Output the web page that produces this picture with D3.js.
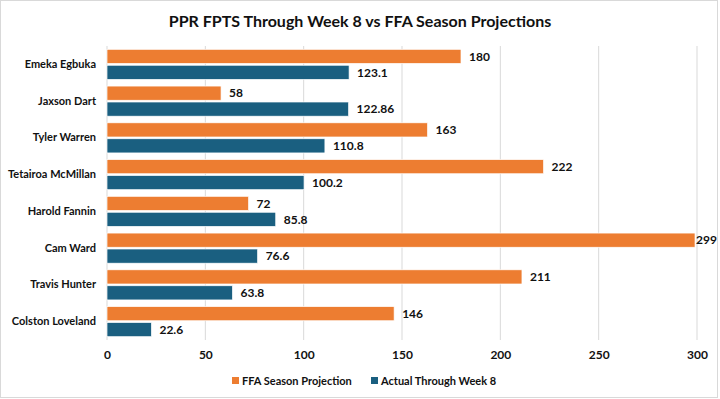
<html>
  <head>
    <style>
      body { margin: 0; background: #fff; }
      text { font-family: Lato, "Noto Sans", sans-serif; font-weight: bold; fill: #111; }
    </style>
  </head>
  <body>
    <svg id="container" height="399" width="720"></svg>
  </body>
  <script src="https://cdn.jsdelivr.net/npm/d3@7"></script>
  <script>
    let players = ["Emeka Egbuka", "Jaxson Dart", "Tyler Warren", "Tetairoa McMillan",
                   "Harold Fannin", "Cam Ward", "Travis Hunter", "Colston Loveland"];
    let projection = [180, 58, 163, 222, 72, 299, 211, 146];
    let actual = [123.1, 122.86, 110.8, 100.2, 85.8, 76.6, 63.8, 22.6];
    let seriesNames = ["FFA Season Projection", "Actual Through Week 8"];
    let xTicks = [0, 50, 100, 150, 200, 250, 300];

    let colors = ["#ED7D31", "#1A5F80"];
    let svg = d3.select("#container");

    // outer chart border
    svg.append("rect")
        .attr("x", 0.5).attr("y", 0.5)
        .attr("width", 717).attr("height", 397)
        .attr("fill", "none").attr("stroke", "#d9d9d9");

    svg.append("text")
        .attr("x", 360).attr("y", 27)
        .attr("text-anchor", "middle")
        .style("font-size", "16px")
        .text("PPR FPTS Through Week 8 vs FFA Season Projections");

    let plotTop = 46, plotBottom = 340, plotLeft = 107, plotRight = 697;

    let xScale = d3.scaleLinear().domain([0, 300]).range([plotLeft, plotRight]);
    let yScale = d3.scaleBand().domain(players).range([plotTop, plotBottom]).paddingInner(0.18).paddingOuter(0.09);
    let inner = d3.scaleBand().domain([0, 1]).range([0, yScale.bandwidth()]).paddingInner(0.11);

    // gridlines
    svg.append("g")
        .selectAll("line")
        .data(xTicks)
        .join("line")
        .attr("x1", d => xScale(d)).attr("x2", d => xScale(d))
        .attr("y1", plotTop).attr("y2", plotBottom)
        .attr("stroke", "#d9d9d9");

    // x axis labels
    let xAxis = svg.append("g")
        .attr("transform", "translate(0," + plotBottom + ")")
        .call(d3.axisBottom(xScale).tickValues(xTicks).tickSize(0).tickPadding(10));
    xAxis.select(".domain").remove();
    xAxis.selectAll("text").style("font-size", "12px").style("font-family", null);

    // y axis labels
    let yAxis = svg.append("g")
        .attr("transform", "translate(" + (plotLeft - 11) + ",0)")
        .call(d3.axisLeft(yScale).tickSize(0).tickPadding(0));
    yAxis.select(".domain").remove();
    yAxis.selectAll("text").style("font-size", "11px").style("font-family", null);

    let rows = players.map((p, i) => ({ name: p, vals: [projection[i], actual[i]] }));

    let groups = svg.append("g")
        .selectAll("g")
        .data(rows)
        .join("g")
        .attr("transform", d => "translate(0," + yScale(d.name) + ")");

    groups.selectAll("rect")
        .data(d => d.vals.map((v, k) => ({ v: v, k: k })))
        .join("rect")
        .attr("x", xScale(0))
        .attr("y", d => inner(d.k))
        .attr("width", d => xScale(d.v) - xScale(0))
        .attr("height", inner.bandwidth())
        .attr("fill", d => colors[d.k])
        .attr("stroke", "#fff")
        .attr("stroke-width", 0.7);

    groups.selectAll("text")
        .data(d => d.vals.map((v, k) => ({ v: v, k: k })))
        .join("text")
        .attr("x", d => xScale(d.v) + 8)
        .attr("y", d => inner(d.k) + inner.bandwidth() / 2)
        .attr("dy", "0.36em")
        .style("font-size", "12px")
        .text(d => d.v)
        .each(function(d) {
            // keep labels inside the chart box, like Excel does
            let w = this.getComputedTextLength();
            let x = xScale(d.v) + 8;
            if (x + w > 715) this.setAttribute("x", Math.max(xScale(d.v) + 1, 715 - w));
        });

    // legend
    let legendX = [232, 371];
    let legend = svg.append("g")
        .selectAll("g")
        .data(seriesNames)
        .join("g")
        .attr("transform", (d, i) => "translate(" + legendX[i] + ",377)");
    legend.append("rect")
        .attr("width", 7).attr("height", 7)
        .attr("fill", (d, i) => colors[i]);
    legend.append("text")
        .attr("x", 10).attr("y", 4)
        .attr("dy", "0.36em")
        .style("font-size", "11px")
        .text(d => d);
  </script>
</html>
